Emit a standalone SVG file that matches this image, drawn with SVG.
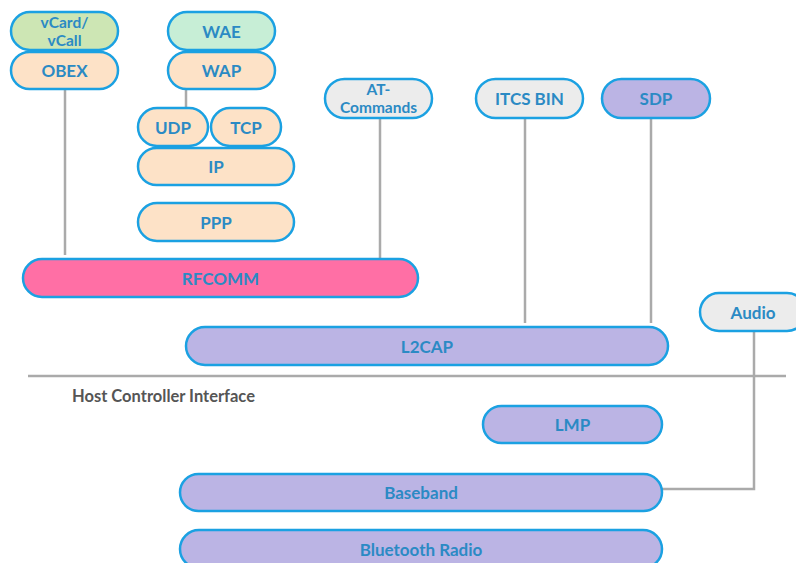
<svg xmlns="http://www.w3.org/2000/svg" width="796" height="563" viewBox="0 0 796 563">
<style>
.n rect{stroke:#1ba1e2;stroke-width:2.5}
.n text{font-family:Lato,"Liberation Sans",sans-serif;font-weight:bold;font-size:17px;fill:#2b8ac4;text-anchor:middle;dominant-baseline:central}
.n text.s{font-size:15.5px}
.peach{fill:#fde2c7}.green{fill:#cde6b4}.mint{fill:#c7eed6}.grey{fill:#ececec}.purple{fill:#bbb4e4}.pink{fill:#ff6fa5}
.c line,.c polyline{stroke:#aaaaaa;stroke-width:2.5;fill:none}
</style>
<rect width="796" height="563" fill="#ffffff"/>
<g class="c" id="connectors">
<line x1="65" y1="89" x2="65" y2="255"/>
<line x1="186" y1="89" x2="186" y2="108"/>
<line x1="380" y1="118" x2="380" y2="259"/>
<line x1="525" y1="118" x2="525" y2="323"/>
<line x1="651" y1="118" x2="651" y2="323"/>
<polyline points="754,331 754,489 662,489"/>
<line x1="28" y1="376" x2="786" y2="376"/>
</g>
<g class="n" id="vcard"><rect class="green" x="11" y="12" width="107" height="38" rx="19"/><text class="s" x="64.5" y="21.5">vCard/</text><text class="s" x="64.5" y="40">vCall</text></g>
<g class="n" id="obex"><rect class="peach" x="11" y="52" width="107" height="37" rx="18.5"/><text x="64.5" y="70.5">OBEX</text></g>
<g class="n" id="wae"><rect class="mint" x="168" y="12" width="107" height="38" rx="19"/><text x="221.5" y="31">WAE</text></g>
<g class="n" id="wap"><rect class="peach" x="168" y="52" width="107" height="37" rx="18.5"/><text x="221.5" y="70.5">WAP</text></g>
<g class="n" id="udp"><rect class="peach" x="138" y="108" width="70" height="38" rx="19"/><text x="173" y="127">UDP</text></g>
<g class="n" id="tcp"><rect class="peach" x="211" y="108" width="70" height="38" rx="19"/><text x="246" y="127">TCP</text></g>
<g class="n" id="ip"><rect class="peach" x="138" y="148" width="156" height="37" rx="18.5"/><text x="216" y="166.5">IP</text></g>
<g class="n" id="ppp"><rect class="peach" x="138" y="203" width="156" height="38" rx="19"/><text x="216" y="222">PPP</text></g>
<g class="n" id="at"><rect class="grey" x="325" y="79" width="107" height="39" rx="19.5"/><text class="s" x="378.5" y="88.5">AT-</text><text class="s" x="378.5" y="107">Commands</text></g>
<g class="n" id="itcs"><rect class="grey" x="476" y="79" width="107" height="39" rx="19.5"/><text x="529.5" y="98.5">ITCS BIN</text></g>
<g class="n" id="sdp"><rect class="purple" x="602" y="79" width="108" height="39" rx="19.5"/><text x="656" y="98.5">SDP</text></g>
<g class="n" id="rfcomm"><rect class="pink" x="23" y="259" width="395" height="38" rx="19"/><text x="220.5" y="278">RFCOMM</text></g>
<g class="n" id="audio"><rect class="grey" x="700" y="293" width="106" height="38" rx="19"/><text x="753" y="312">Audio</text></g>
<g class="n" id="l2cap"><rect class="purple" x="186" y="327" width="482" height="38" rx="19"/><text x="427" y="346">L2CAP</text></g>
<text x="72" y="396" font-family="Lato,'Liberation Sans',sans-serif" font-weight="bold" font-size="16.5" fill="#555555" dominant-baseline="central">Host Controller Interface</text>
<g class="n" id="lmp"><rect class="purple" x="483" y="406" width="179" height="37" rx="18.5"/><text x="572.5" y="424.5">LMP</text></g>
<g class="n" id="baseband"><rect class="purple" x="180" y="474" width="482" height="37" rx="18.5"/><text x="421" y="492.5">Baseband</text></g>
<g class="n" id="radio"><rect class="purple" x="180" y="530" width="482" height="38" rx="19"/><text x="421" y="549">Bluetooth Radio</text></g>
</svg>
